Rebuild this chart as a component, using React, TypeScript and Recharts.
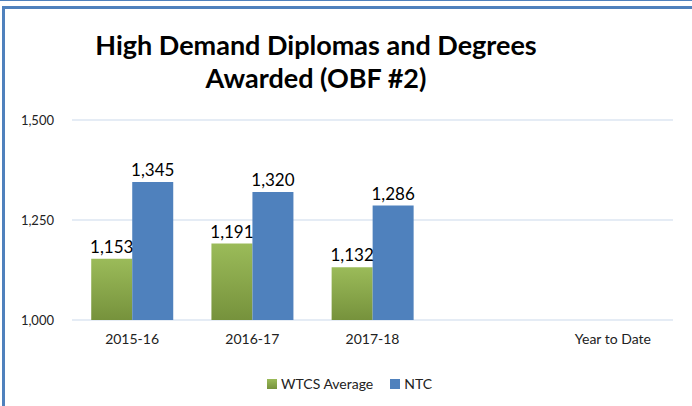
import { BarChart, Bar, XAxis, YAxis, CartesianGrid, LabelList } from 'recharts';

const categories = ['2015-16', '2016-17', '2017-18', '', 'Year to Date'];
const wtcsAverage = [1153, 1191, 1132, null, null];
const ntc = [1345, 1320, 1286, null, null];
const yTicks = [1000, 1250, 1500];

const data = categories.map((name, i) => ({
  name,
  wtcs: wtcsAverage[i],
  ntc: ntc[i]
}));

const font = 'Lato, "Open Sans", sans-serif';
const fmt = (v: any) => (v == null ? '' : Number(v).toLocaleString('en-US'));

const LegendBox = () => <div style={{
  position: 'absolute',
  top: 375,
  left: 267,
  display: 'flex',
  alignItems: 'center',
  fontFamily: font,
  fontSize: 14,
  color: '#222'
}}>
    <span style={{ width: 10, height: 10, background: 'linear-gradient(#9bbb59, #76923c)', marginRight: 4 }} />
    <span style={{ marginRight: 17 }}>WTCS Average</span>
    <span style={{ width: 10, height: 10, background: '#4f81bd', marginRight: 4 }} />
    <span>NTC</span>
  </div>;

const App = () => {
  return <div style={{ position: 'fixed', top: 0, left: 0, width: 692, height: 406, background: '#fff', overflow: 'hidden' }}>
      <div style={{ position: 'absolute', top: 0, left: 0, width: 692, height: 1, background: '#4f81bd' }} />
      <div style={{ position: 'absolute', top: 6, left: 2, width: 700, height: 420, borderTop: '3px solid #4f81bd', borderLeft: '3px solid #4f81bd' }} />
      <div style={{
      position: 'absolute',
      top: 28,
      left: 0,
      width: 632,
      textAlign: 'center',
      fontFamily: font,
      fontWeight: 700,
      fontSize: 27,
      lineHeight: '33px',
      color: '#000'
    }}>
        High Demand Diplomas and Degrees
        <br />
        Awarded (OBF #2)
      </div>
      <div style={{ position: 'absolute', top: 0, left: 0 }}>
        <BarChart width={692} height={406} data={data} margin={{ top: 120, right: 19, bottom: 56, left: 0 }} barCategoryGap="16%" barGap={0}>
          <defs>
            <linearGradient id="greenGrad" x1="0" y1="0" x2="0" y2="1">
              <stop offset="0%" stopColor="#9bbb59" />
              <stop offset="100%" stopColor="#76923c" />
            </linearGradient>
          </defs>
          <CartesianGrid vertical={false} stroke="#dce6f2" strokeWidth={1.5} />
          <XAxis dataKey="name" height={30} axisLine={false} tickLine={false} tick={{ fontFamily: font, fontSize: 14, fill: '#222' }} dy={6} />
          <YAxis width={72} domain={[1000, 1500]} ticks={yTicks} tickFormatter={fmt} axisLine={false} tickLine={false} tick={{ fontFamily: font, fontSize: 13, fill: '#222' }} dx={-10} />
          <Bar dataKey="wtcs" name="WTCS Average" fill="url(#greenGrad)" isAnimationActive={false}>
            <LabelList dataKey="wtcs" position="top" formatter={fmt} style={{ fontFamily: font, fontSize: 17, fill: '#000' }} offset={6} />
          </Bar>
          <Bar dataKey="ntc" name="NTC" fill="#4f81bd" isAnimationActive={false}>
            <LabelList dataKey="ntc" position="top" formatter={fmt} style={{ fontFamily: font, fontSize: 17, fill: '#000' }} offset={6} />
          </Bar>
        </BarChart>
      </div>
      <LegendBox />
    </div>;
};

export default App;
